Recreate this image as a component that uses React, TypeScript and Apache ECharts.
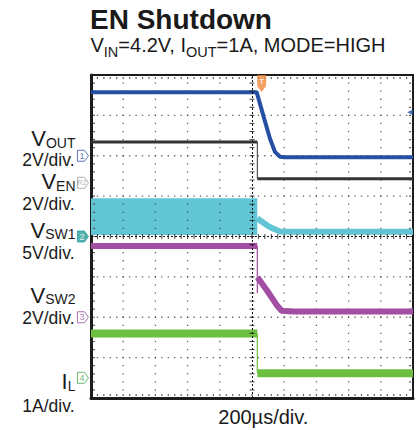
import React, { useEffect, useRef } from "react";
import * as echarts from "echarts";

// ---- axes (time in µs, 200 µs/div; vertical in divisions 0..8) ----
const X_MIN = -1000;
const X_MAX = 1000;
const X_STEP = 200;
const Y_MIN = 0;
const Y_MAX = 8;
const MINOR = 5; // minor subdivisions per division

// ---- channel ground offsets (div) and scales (unit/div) ----
const OFFSET_DIV = { vout: 6.0, ven: 5.33, vsw1: 4.0, vsw2: 2.0, il: 0.5 };
const SCALE = { vout: 2, ven: 2, vsw1: 5, vsw2: 2, il: 1 };

// ---- traces (time µs, value in V or A) ----
const VOUT_T = [-1000, 29, 70, 112, 143, 174, 200, 1000];
const VOUT_V = [3.15, 3.15, 2.0, 0.84, 0.19, -0.05, -0.07, -0.07];

const EDGE_T = 33;
const VEN_PRE_V = 2.02;
const VEN_POST_V = 0.2;

const VSW1_BLOCK_LOW = 0.19;
const VSW1_BLOCK_HIGH = 4.73;
const VSW1_TAIL_T = [33, 60, 91, 130, 174, 250, 1000];
const VSW1_TAIL_V = [2.27, 1.85, 1.42, 0.99, 0.62, 0.58, 0.58];

const VSW2_PRE_V = 3.53;
const VSW2_SPIKE_V = 1.19;
const VSW2_POST_T = [34, 91, 153, 184, 260, 1000];
const VSW2_POST_V = [1.98, 1.35, 0.61, 0.32, 0.28, 0.28];

const IL_PRE_A = 1.1;
const IL_POST_A = 0.11;

// ---- scope markers ----
const TRIG_T = 60;
const TRIG_DIV = 7.79;
const LEVEL_T = 982;
const LEVEL_DIV = 7.08;
const CH_MARK_T = -1050;
const CH_MARK_NAMES = ["1", "R2", "2", "3", "4"];
const CH_MARK_DIV = [6.0, 5.33, 4.0, 2.0, 0.5];

// ---- texts ----
const TITLE = "EN Shutdown";
const X_LABEL = "200µs/div.";
const LABEL_MAIN = ["V", "V", "V", "V", "I"];
const LABEL_SUB = ["OUT", "EN", "SW1", "SW2", "L"];
const LABEL_SCALE = ["2V/div.", "2V/div.", "5V/div.", "2V/div.", "1A/div."];

// layout (pixels) for the annotation texts
const LABEL_MAIN_Y = [140, 183.3, 231.5, 296.5, 383.3];
const LABEL_SCALE_Y = [160, 204.2, 252.5, 317.5, 405.5];

const FONT = '"Liberation Sans", Arial, Helvetica, sans-serif';

const COLORS = {
  vout: "#2550a3",
  ven: "#333333",
  vsw1: "#62c5d3",
  vsw2: "#a24ea3",
  il: "#6cbf3f",
  trig: "#f08a3c",
  grid: "#3a3a3a",
};
const MARK_STYLE = [
  { border: "#3a4fa8", fill: "#ffffff", text: "#3a4fa8" },
  { border: "#9a9a9a", fill: "#ffffff", text: "#9a9a9a" },
  { border: "#2a9d9a", fill: "#2a9d9a", text: "#ffffff" },
  { border: "#9b4fa0", fill: "#ffffff", text: "#9b4fa0" },
  { border: "#4aa84a", fill: "#ffffff", text: "#4aa84a" },
];

type Ch = keyof typeof OFFSET_DIV;
const toDiv = (ch: Ch, v: number) => OFFSET_DIV[ch] + v / SCALE[ch];
const pairs = (ch: Ch, ts: number[], vs: number[]) => ts.map((t, i) => [t, toDiv(ch, vs[i])]);

function buildOption(): any {
  const lineBase = {
    type: "line",
    showSymbol: false,
    symbol: "none",
    silent: true,
  };

  const series: any[] = [];

  // ---- oscilloscope graticule: dotted grid made of dots at minor positions ----
  const xMinorStep = X_STEP / MINOR;
  const yMinorStep = 1 / MINOR;
  const nx = ((X_MAX - X_MIN) / X_STEP) * MINOR;
  const ny = (Y_MAX - Y_MIN) * MINOR;
  const gridDots: number[][] = [];
  for (let gy = Y_MIN + 1; gy < Y_MAX; gy++) {
    if (gy === 4) continue;
    for (let k = 1; k < nx; k++) gridDots.push([X_MIN + k * xMinorStep, gy]);
  }
  for (let gx = X_MIN + X_STEP; gx < X_MAX; gx += X_STEP) {
    if (gx === 0) continue;
    for (let k = 1; k < ny; k++) gridDots.push([gx, Y_MIN + k * yMinorStep]);
  }
  series.push({
    type: "scatter",
    silent: true,
    data: gridDots,
    symbol: "rect",
    symbolSize: [1.3, 1.3],
    itemStyle: { color: COLORS.grid },
    z: 1,
  });

  // border ticks (inside the frame)
  const topTicks: number[][] = [];
  const bottomTicks: number[][] = [];
  for (let k = 1; k < nx; k++) {
    topTicks.push([X_MIN + k * xMinorStep, Y_MAX]);
    bottomTicks.push([X_MIN + k * xMinorStep, Y_MIN]);
  }
  const leftTicks: number[][] = [];
  const rightTicks: number[][] = [];
  for (let k = 1; k < ny; k++) {
    leftTicks.push([X_MIN, Y_MIN + k * yMinorStep]);
    rightTicks.push([X_MAX, Y_MIN + k * yMinorStep]);
  }
  const tickSeries = (data: number[][], size: number[], offset: number[]) => ({
    type: "scatter",
    silent: true,
    clip: false,
    data,
    symbol: "rect",
    symbolSize: size,
    symbolOffset: offset,
    itemStyle: { color: COLORS.grid },
    z: 1,
  });
  series.push(tickSeries(topTicks, [1.2, 2], [0, 3]));
  series.push(tickSeries(bottomTicks, [1.2, 2], [0, -3]));
  series.push(tickSeries(leftTicks, [2, 1.2], [3, 0]));
  series.push(tickSeries(rightTicks, [2, 1.2], [-3, 0]));

  // VSW1 switching block (filled band) + decay tail
  series.push({
    ...lineBase,
    name: "VSW1 tail",
    data: pairs("vsw1", VSW1_TAIL_T, VSW1_TAIL_V),
    lineStyle: { color: COLORS.vsw1, width: 6 },
    z: 2,
    markArea: {
      silent: true,
      itemStyle: { color: COLORS.vsw1, opacity: 1 },
      data: [
        [
          { xAxis: X_MIN, yAxis: toDiv("vsw1", VSW1_BLOCK_LOW) },
          { xAxis: EDGE_T, yAxis: toDiv("vsw1", VSW1_BLOCK_HIGH) },
        ],
      ],
    },
  });

  // VOUT
  series.push({
    ...lineBase,
    data: pairs("vout", VOUT_T, VOUT_V),
    lineStyle: { color: COLORS.vout, width: 4 },
    z: 3,
  });

  // VEN
  series.push({
    ...lineBase,
    data: pairs("ven", [X_MIN, EDGE_T], [VEN_PRE_V, VEN_PRE_V]),
    lineStyle: { color: COLORS.ven, width: 3 },
    z: 3,
  });
  series.push({
    ...lineBase,
    data: pairs("ven", [EDGE_T, EDGE_T], [VEN_PRE_V, VEN_POST_V]),
    lineStyle: { color: COLORS.ven, width: 1 },
    z: 3,
  });
  series.push({
    ...lineBase,
    data: pairs("ven", [EDGE_T, X_MAX], [VEN_POST_V, VEN_POST_V]),
    lineStyle: { color: COLORS.ven, width: 3 },
    z: 3,
  });

  // VSW2
  series.push({
    ...lineBase,
    data: pairs("vsw2", [X_MIN, EDGE_T], [VSW2_PRE_V, VSW2_PRE_V]),
    lineStyle: { color: COLORS.vsw2, width: 6 },
    z: 3,
  });
  series.push({
    ...lineBase,
    data: pairs("vsw2", [EDGE_T, EDGE_T], [VSW2_PRE_V, VSW2_SPIKE_V]),
    lineStyle: { color: COLORS.vsw2, width: 1.2 },
    z: 3,
  });
  series.push({
    ...lineBase,
    data: pairs("vsw2", VSW2_POST_T, VSW2_POST_V),
    lineStyle: { color: COLORS.vsw2, width: 6 },
    z: 3,
  });

  // IL
  series.push({
    ...lineBase,
    data: pairs("il", [X_MIN, EDGE_T], [IL_PRE_A, IL_PRE_A]),
    lineStyle: { color: COLORS.il, width: 8 },
    z: 3,
  });
  series.push({
    ...lineBase,
    data: pairs("il", [EDGE_T, EDGE_T], [IL_PRE_A, IL_POST_A]),
    lineStyle: { color: COLORS.il, width: 1.2 },
    z: 3,
  });
  series.push({
    ...lineBase,
    data: pairs("il", [EDGE_T, X_MAX], [IL_POST_A, IL_POST_A]),
    lineStyle: { color: COLORS.il, width: 8 },
    z: 3,
  });

  // centre cross-hair with minor ticks
  const vTicks: number[][] = [];
  for (let k = 1; k < ny; k++) vTicks.push([0, Y_MIN + k * yMinorStep]);
  const hTicks: number[][] = [];
  for (let k = 1; k < nx; k++) hTicks.push([X_MIN + k * xMinorStep, 4]);
  series.push({
    type: "scatter",
    silent: true,
    data: vTicks,
    symbol: "rect",
    symbolSize: [5, 1],
    itemStyle: { color: "#111" },
    z: 4,
    markLine: {
      silent: true,
      symbol: "none",
      label: { show: false },
      lineStyle: { color: "#111", width: 1, type: [2, 2] },
      data: [{ xAxis: 0 }, { yAxis: 4 }],
    },
  });
  series.push({
    type: "scatter",
    silent: true,
    data: hTicks,
    symbol: "rect",
    symbolSize: [1, 5],
    itemStyle: { color: "#111" },
    z: 4,
  });

  // trigger position marker (top) and trigger level marker (right)
  series.push({
    type: "scatter",
    silent: true,
    clip: false,
    data: [[TRIG_T, TRIG_DIV]],
    symbol: "path://M0,0 L10,0 L10,11 L5,17 L0,11 Z",
    symbolSize: [9, 17],
    itemStyle: { color: COLORS.trig },
    label: {
      show: true,
      formatter: "T",
      position: "inside",
      offset: [0, -2],
      color: "#fff",
      fontSize: 8,
      fontWeight: "bold",
      fontFamily: FONT,
    },
    z: 6,
  });
  series.push({
    type: "scatter",
    silent: true,
    clip: false,
    data: [[LEVEL_T, LEVEL_DIV]],
    symbol: "triangle",
    symbolRotate: 90,
    symbolSize: [6, 6],
    itemStyle: { color: COLORS.vout },
    z: 6,
  });

  // channel ground markers (left of the screen)
  series.push({
    type: "scatter",
    silent: true,
    clip: false,
    symbol: "path://M0,0 L7,0 L11,5 L7,10 L0,10 Z",
    symbolSize: [11, 11],
    data: CH_MARK_NAMES.map((n, i) => ({
      value: [CH_MARK_T, CH_MARK_DIV[i]],
      name: n,
      itemStyle: { color: MARK_STYLE[i].fill, borderColor: MARK_STYLE[i].border, borderWidth: 1 },
      label: {
        show: true,
        formatter: n,
        position: "inside",
        offset: [-1, 0],
        color: MARK_STYLE[i].text,
        fontSize: n.length > 1 ? 7 : 9,
        fontFamily: FONT,
      },
    })),
    z: 6,
  });

  const axisCommon = {
    type: "value",
    axisLabel: { show: false },
    axisTick: { show: false },
    minorTick: { show: false },
    splitLine: { show: false },
  };

  const frame = (w: number) => ({ show: true, onZero: false, lineStyle: { color: "#1c1c1c", width: w } });
  const xAxis = [
    { ...axisCommon, min: X_MIN, max: X_MAX, interval: X_STEP, position: "bottom", axisLine: frame(3) },
    { ...axisCommon, min: X_MIN, max: X_MAX, interval: X_STEP, position: "top", axisLine: frame(2) },
  ];
  const yAxis = [
    { ...axisCommon, min: Y_MIN, max: Y_MAX, interval: 1, position: "left", axisLine: frame(3) },
    { ...axisCommon, min: Y_MIN, max: Y_MAX, interval: 1, position: "right", axisLine: frame(2) },
  ];

  const graphic: any[] = [
    {
      type: "text",
      x: 90,
      y: 19.7,
      style: {
        text: TITLE,
        font: `bold 28px ${FONT}`,
        fill: "#1a1a1a",
        align: "left",
        verticalAlign: "middle",
      },
    },
    {
      type: "text",
      x: 90.5,
      y: 49,
      style: {
        text: "{n|V}{s|IN}{n|=4.2V, I}{s|OUT}{n|=1A, MODE=HIGH}",
        align: "left",
        verticalAlign: "middle",
        fill: "#1a1a1a",
        rich: {
          n: { fontSize: 20, lineHeight: 20, padding: [0, 0, 4, 0], verticalAlign: "bottom", fontFamily: FONT, fill: "#1a1a1a" },
          s: { fontSize: 14.5, lineHeight: 14.5, verticalAlign: "bottom", fontFamily: FONT, fill: "#1a1a1a" },
        },
      },
    },
    {
      type: "text",
      x: 263.3,
      y: 417,
      style: {
        text: X_LABEL,
        font: `20px ${FONT}`,
        fill: "#1a1a1a",
        align: "center",
        verticalAlign: "middle",
      },
    },
  ];
  LABEL_MAIN.forEach((m, i) => {
    graphic.push({
      type: "text",
      x: 75.5,
      y: LABEL_MAIN_Y[i],
      style: {
        text: `{v|${m}}{s|${LABEL_SUB[i]}}`,
        align: "right",
        verticalAlign: "middle",
        fill: "#1a1a1a",
        rich: {
          v: { fontSize: 22, lineHeight: 19, verticalAlign: "bottom", fontFamily: FONT, fill: "#1a1a1a" },
          s: { fontSize: 14, lineHeight: 12, verticalAlign: "bottom", fontFamily: FONT, fill: "#1a1a1a" },
        },
      },
    });
    graphic.push({
      type: "text",
      x: 74.5,
      y: LABEL_SCALE_Y[i],
      style: {
        text: LABEL_SCALE[i],
        font: `17.5px ${FONT}`,
        lineHeight: 16,
        fill: "#1a1a1a",
        align: "right",
        verticalAlign: "middle",
      },
    });
  });

  return {
    animation: false,
    backgroundColor: "#ffffff",
    grid: { left: 91, top: 75, width: 322, height: 323, containLabel: false },
    xAxis,
    yAxis,
    series,
    graphic,
  };
}

export default function App() {
  const ref = useRef<HTMLDivElement>(null);
  useEffect(() => {
    if (!ref.current) return;
    const chart = echarts.init(ref.current, null, { renderer: "svg" });
    chart.setOption(buildOption());
    return () => chart.dispose();
  }, []);
  return (
    <div
      ref={ref}
      style={{ position: "fixed", left: 0, top: 0, width: 420, height: 430, background: "#fff" }}
    />
  );
}
